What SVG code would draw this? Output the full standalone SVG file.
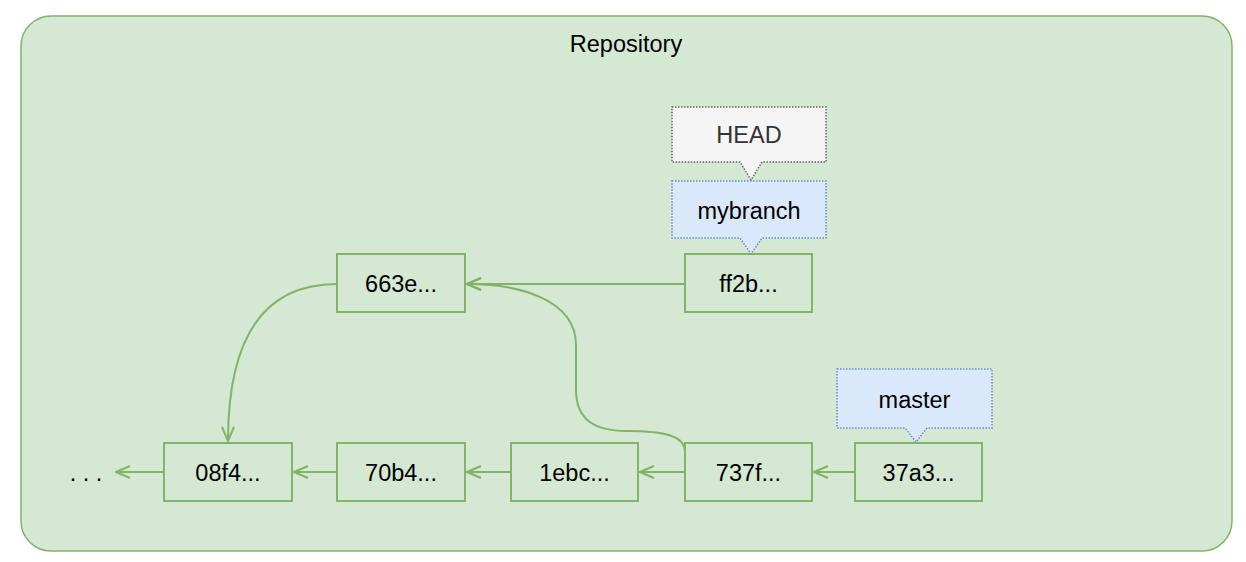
<svg xmlns="http://www.w3.org/2000/svg" width="1246" height="562" viewBox="0 0 1246 562">
  <style>
    text { font-family: "Liberation Sans", Arial, Helvetica, sans-serif; font-size: 23.5px; text-anchor: middle; fill: #000; }
    .commit { fill: #d5e8d4; stroke: #82b366; stroke-width: 2; }
    .edge { fill: none; stroke: #82b366; stroke-width: 2; marker-end: url(#open); }
    .ref { fill: #dae8fc; stroke: #6c8ebf; stroke-width: 1.5; stroke-dasharray: 1.5 1.5; }
    .head { fill: #f5f5f5; stroke: #666666; stroke-width: 1.5; stroke-dasharray: 1.5 1.5; }
  </style>
  <defs>
    <marker id="open" viewBox="0 0 16 14" refX="15" refY="7" markerWidth="16" markerHeight="14" markerUnits="userSpaceOnUse" orient="auto">
      <path d="M1,1 L15,7 L1,13" fill="none" stroke="#82b366" stroke-width="2"/>
    </marker>
  </defs>

  <!-- repository container -->
  <g id="repository">
    <rect x="21" y="16" width="1211" height="535" rx="30" ry="30" fill="#d5e8d4" stroke="#82b366" stroke-width="1.5"/>
    <text x="626" y="52">Repository</text>
  </g>

  <!-- connectors -->
  <g id="connectors">
    <path class="edge" d="M685,284 L467,284"/>
    <path class="edge" d="M337,284 C262,284 228,340 228,441"/>
    <path class="edge" d="M685,452 C685,436 665,431 627,431 C595,431 576,420 576,390 L576,345 C576,300 520,284 467,284"/>
    <path class="edge" d="M855,472 L814,472"/>
    <path class="edge" d="M685,472 L640,472"/>
    <path class="edge" d="M511,472 L467,472"/>
    <path class="edge" d="M337,472 L294,472"/>
    <path class="edge" d="M164,472 L116,472"/>
  </g>

  <!-- commits -->
  <g id="c663e"><rect class="commit" x="337" y="254" width="128" height="58"/><text x="401" y="292">663e...</text></g>
  <g id="cff2b"><rect class="commit" x="685" y="254" width="127" height="58"/><text x="748.5" y="292">ff2b...</text></g>
  <g id="c08f4"><rect class="commit" x="164" y="443" width="128" height="58"/><text x="228" y="481">08f4...</text></g>
  <g id="c70b4"><rect class="commit" x="337" y="443" width="128" height="58"/><text x="401" y="481">70b4...</text></g>
  <g id="c1ebc"><rect class="commit" x="511" y="443" width="127" height="58"/><text x="574.5" y="481">1ebc...</text></g>
  <g id="c737f"><rect class="commit" x="685" y="443" width="127" height="58"/><text x="748.5" y="481">737f...</text></g>
  <g id="c37a3"><rect class="commit" x="855" y="443" width="127" height="58"/><text x="918.5" y="481">37a3...</text></g>

  <!-- earlier history -->
  <g id="ellipsis"><text x="86" y="481">. . .</text></g>

  <!-- references -->
  <g id="head">
    <path class="head" d="M672,107 H826 V162 H762 L751,180 L740,162 H672 Z"/>
    <text x="749" y="143" style="fill:#333333">HEAD</text>
  </g>
  <g id="mybranch">
    <path class="ref" d="M672,181 H826 V238 H762 L751,254 L740,238 H672 Z"/>
    <text x="749" y="219">mybranch</text>
  </g>
  <g id="master">
    <path class="ref" d="M837,369 H992 V428 H927 L916,442 L905,428 H837 Z"/>
    <text x="914.5" y="408">master</text>
  </g>
</svg>
